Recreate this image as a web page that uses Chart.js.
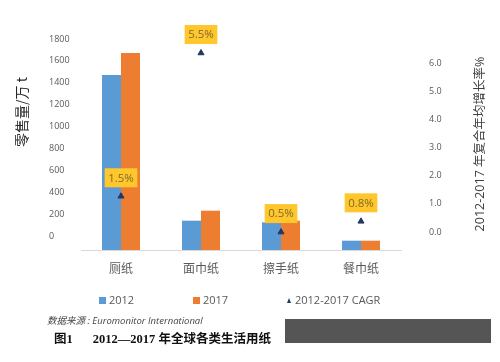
<!DOCTYPE html>
<html><head><meta charset="utf-8">
<script src="https://cdn.jsdelivr.net/npm/chart.js@4/dist/chart.umd.min.js"></script>
<style>
html,body{margin:0;padding:0;background:#fff;}
#wrap{position:relative;width:500px;height:362px;overflow:hidden;background:#fff;}
#c{position:absolute;left:0;top:0;}
.leg{position:absolute;top:292px;height:16px;font:11px 'Open Sans',sans-serif;color:#595959;line-height:16px;white-space:nowrap;}
.leg i{display:inline-block;vertical-align:middle;margin-right:3px;position:relative;top:-1px;}
#src{position:absolute;left:47px;top:313px;font:italic 9.5px 'Open Sans','Noto Sans CJK SC',sans-serif;color:#444;white-space:nowrap;}
#cap{position:absolute;left:54px;top:328px;font:bold 12.5px 'Liberation Serif','Noto Sans CJK SC',serif;color:#111;white-space:nowrap;}
#wm{position:absolute;left:285px;top:319px;width:206px;height:24px;background:#555;}
</style></head>
<body>
<div id="wrap">
<canvas id="c" width="500" height="362"></canvas>
<div id="legend"></div>
<div id="src">数据来源 : Euromonitor International</div>
<div id="cap">图1<span style="display:inline-block;width:20px"></span>2012—2017 年全球各类生活用纸</div>
<div id="wm"></div>
</div>
<script>
const categories = ['厕纸', '面巾纸', '擦手纸', '餐巾纸'];
const volume2012 = [1600, 268, 253, 85];
const volume2017 = [1800, 359, 268, 85];
const cagr = [1.5, 5.5, 0.5, 0.8];
const leftTicks = [0, 200, 400, 600, 800, 1000, 1200, 1400, 1600, 1800];
const rightTicks = [0, 1, 2, 3, 4, 5, 6];
const seriesNames = ['2012', '2017', '2012-2017 CAGR'];
const leftTitle = '零售量/万 t';
const rightTitle = '2012-2017 年复合年均增长率%';

const BLUE = '#5B9BD5', ORANGE = '#ED7D31', NAVY = '#1F3864';

// HTML legend
(function(){
  const lg = document.getElementById('legend');
  const xs = [99, 193, 287];
  const marks = [
    '<i style="width:7px;height:7px;background:'+BLUE+'"></i>',
    '<i style="width:7px;height:7px;background:'+ORANGE+'"></i>',
    '<i style="width:0;height:0;border-left:2.5px solid transparent;border-right:2.5px solid transparent;border-bottom:5px solid '+NAVY+';margin-right:4px"></i>'
  ];
  seriesNames.forEach((n,i)=>{
    const d = document.createElement('div');
    d.className='leg'; d.style.left = xs[i]+'px';
    d.innerHTML = marks[i] + n;
    lg.appendChild(d);
  });
})();

const titlesPlugin = {
  id:'titles',
  afterDraw(chart){
    const ctx = chart.ctx;
    ctx.save();
    ctx.textAlign='center'; ctx.textBaseline='middle';
    ctx.fillStyle='#262626';
    ctx.font="14px 'Noto Sans CJK SC', sans-serif";
    ctx.translate(22,112); ctx.rotate(-Math.PI/2);
    ctx.fillText(leftTitle,0,0);
    ctx.restore();
    ctx.save();
    ctx.textAlign='center'; ctx.textBaseline='middle';
    ctx.fillStyle='#404040';
    ctx.font="12.5px 'Open Sans','Noto Sans CJK SC', sans-serif";
    ctx.translate(480,144); ctx.rotate(-Math.PI/2);
    ctx.fillText(rightTitle,0,0);
    ctx.restore();
  }
};

const labelPlugin = {
  id:'cagrLabels',
  afterDatasetsDraw(chart){
    const meta = chart.getDatasetMeta(2);
    const ctx = chart.ctx;
    ctx.save();
    ctx.font="11.5px 'Open Sans', sans-serif";
    ctx.textAlign='center'; ctx.textBaseline='middle';
    meta.data.forEach((pt,i)=>{
      const txt = cagr[i].toFixed(1)+'%';
      const w = ctx.measureText(txt).width + 7;
      const h = 19;
      const cx = pt.x, cy = pt.y - 18.5;
      ctx.fillStyle='#FFC72C';
      ctx.fillRect(cx-w/2, cy-h/2, w, h);
      ctx.fillStyle='#7F6A2E';
      ctx.fillText(txt, cx, cy+0.5);
    });
    ctx.restore();
  }
};

new Chart(document.getElementById('c'), {
  data:{
    labels: categories,
    datasets:[
      {type:'bar', label:seriesNames[0], data:volume2012, backgroundColor:BLUE, yAxisID:'y', order:1},
      {type:'bar', label:seriesNames[1], data:volume2017, backgroundColor:ORANGE, yAxisID:'y', order:1},
      {type:'line', label:seriesNames[2], data:cagr, yAxisID:'y2', showLine:false, clip:false,
       pointStyle:'triangle', pointRadius:3.5, backgroundColor:NAVY, borderColor:NAVY, borderWidth:1, order:0}
    ]
  },
  options:{
    responsive:false, animation:false,
    layout:{padding:{left:49, right:0, top:53, bottom:0}},
    plugins:{legend:{display:false}, tooltip:{enabled:false}},
    datasets:{bar:{categoryPercentage:0.475, barPercentage:1}},
    scales:{
      x:{
        grid:{display:false, drawTicks:false},
        border:{display:true, color:'#D9D9D9', width:1},
        ticks:{padding:11, color:'#595959', font:{size:12, family:"'Noto Sans CJK SC', sans-serif"}},
        afterFit(s){ s.height = 112; }
      },
      y:{
        position:'left', min:0, max:1800,
        grid:{display:false, drawTicks:false},
        border:{display:false},
        afterBuildTicks(s){ s.ticks = leftTicks.map(v=>({value:v})); },
        ticks:{crossAlign:'far', labelOffset:-14, padding:4, color:'#595959',
          font:{size:9, family:"'Open Sans', sans-serif"},
          callback:(v)=>String(v)},
        afterFit(s){ s.width = 32; }
      },
      y1:{
        position:'right', min:0, max:7,
        grid:{display:false, drawTicks:false},
        border:{display:false},
        afterBuildTicks(s){ s.ticks = rightTicks.map(v=>({value:v})); },
        ticks:{labelOffset:-18, padding:28, color:'#595959',
          font:{size:9, family:"'Open Sans', sans-serif"},
          callback:(v)=>Number(v).toFixed(1)},
        afterFit(s){ s.width = 99; }
      },
      y2:{
        position:'right', min:0, max:5.5, display:false
      }
    }
  },
  plugins:[titlesPlugin, labelPlugin]
});
</script>
</body></html>
